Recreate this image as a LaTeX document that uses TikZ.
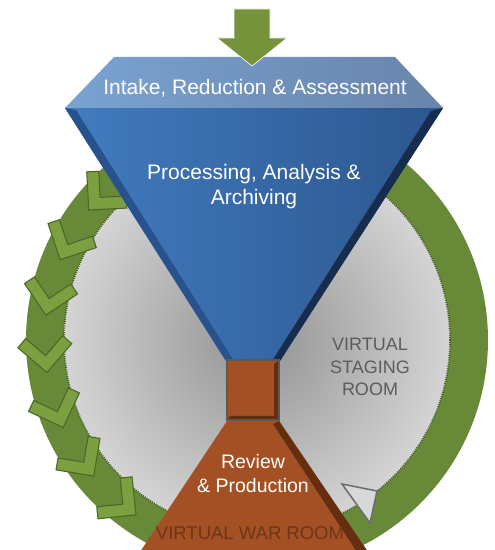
\documentclass[tikz,border=0pt]{standalone}
\usepackage{fontspec}
\setmainfont{Liberation Sans}
\definecolor{ringgreen}{RGB}{104,138,56}
\definecolor{ringdark}{RGB}{62,88,30}
\definecolor{chevgreen}{RGB}{124,160,63}
\definecolor{chevdark}{RGB}{76,104,40}
\definecolor{arrowgreen}{RGB}{118,146,58}
\definecolor{stagedark}{RGB}{146,146,146}
\definecolor{stagelight}{RGB}{212,212,212}
\definecolor{bandleft}{RGB}{122,163,210}
\definecolor{bandright}{RGB}{104,132,170}
\definecolor{blueleft}{RGB}{66,124,192}
\definecolor{blueright}{RGB}{44,86,142}
\definecolor{blueedge}{RGB}{40,82,140}
\definecolor{navy}{RGB}{24,44,78}
\definecolor{rust}{RGB}{163,80,36}
\definecolor{rustdark}{RGB}{102,46,16}
\definecolor{roomgray}{RGB}{92,92,92}
\definecolor{warbrown}{RGB}{112,52,22}
\tikzset{
  chev/.style={fill=chevgreen,draw=chevdark,line width=1.1pt,line join=miter},
  label/.style={text=white,font=\fontsize{21}{25}\selectfont,align=center},
  roomtext/.style={font=\fontsize{18}{22.5}\selectfont,align=center}
}
\begin{document}
\begin{tikzpicture}[x=1pt,y=1pt]
\useasboundingbox (0,0) rectangle (495,550);
\clip (0,0) rectangle (495,550);
\coordinate (c) at (257,210);
% ring and staging room
\fill[ringgreen] (c) circle (231);
\shade[inner color=stagedark,outer color=stagelight] (c) circle (193);
\draw[ringdark,line width=1.8pt,dash pattern=on 0.9pt off 1.3pt] (c) circle (193);
% chevrons on the left side of the ring
\begin{scope}[shift={(c)}]
\foreach \a in {138,153.5,...,232}
  \draw[chev,shift={(\a:212)},rotate=\a+90]
    (16,0)--(-11,27)--(-19.5,18.5)--(-1,0)--(-19.5,-18.5)--(-11,-27)--cycle;
\end{scope}
% gray arrowhead on the right
\draw[fill=stagelight!90!white,draw=gray!85!black,line width=1.5pt,line join=miter]
  (342,66)--(377,59)--(370,27)--cycle;
% funnel
\shade[left color=blueleft,right color=blueright](65,442)--(443,442)--(280,189)--(226,189)--cycle;
\fill[blueedge](65,442)--(226,189)--(234,189)--(76,440)--cycle; %left face
\fill[navy](443,442)--(280,189)--(272,189)--(431,439)--cycle; %right face
\shade[left color=bandleft,right color=bandright](114,493)--(395,493)--(443,442)--(65,442)--cycle; %top band
% neck
\fill[rust](227,190)rectangle(279,130);
\fill[rustdark](279,190)--(279,130)--(227,130)--(230,134)--(274,134)--(274,186)--cycle; %bevel
\draw[gray!70!black,line width=1.6pt](227,190)rectangle(279,130);
% lower part
\fill[rust](227,129)--(279,129)--(368,-2)--(140,-2)--cycle;
\fill[rustdark](279,129)--(368,-2)--(357,-2)--(273,126)--cycle; %right face
% intake arrow
\draw[fill=arrowgreen,draw=white,line width=0.6pt]
  (234,541)--(270,541)--(270,512)--(287,512)--(252,484)--(217,512)--(234,512)--cycle;
%labels
\node[label](intake)at(255,462){Intake, Reduction \& Assessment};
\node[label](processing)at(254,363){Processing, Analysis \&\\Archiving};
\node[roomtext,text=roomgray](staging)at(370,183){VIRTUAL\\STAGING\\ROOM};
\node[label,font=\fontsize{19.5}{24}\selectfont](review)at(253,76){Review\\\& Production};
\node[roomtext,font=\fontsize{18.5}{22}\selectfont,text=warbrown](warroom)at(250,17){VIRTUAL WAR ROOM};
\end{tikzpicture}
\end{document}
